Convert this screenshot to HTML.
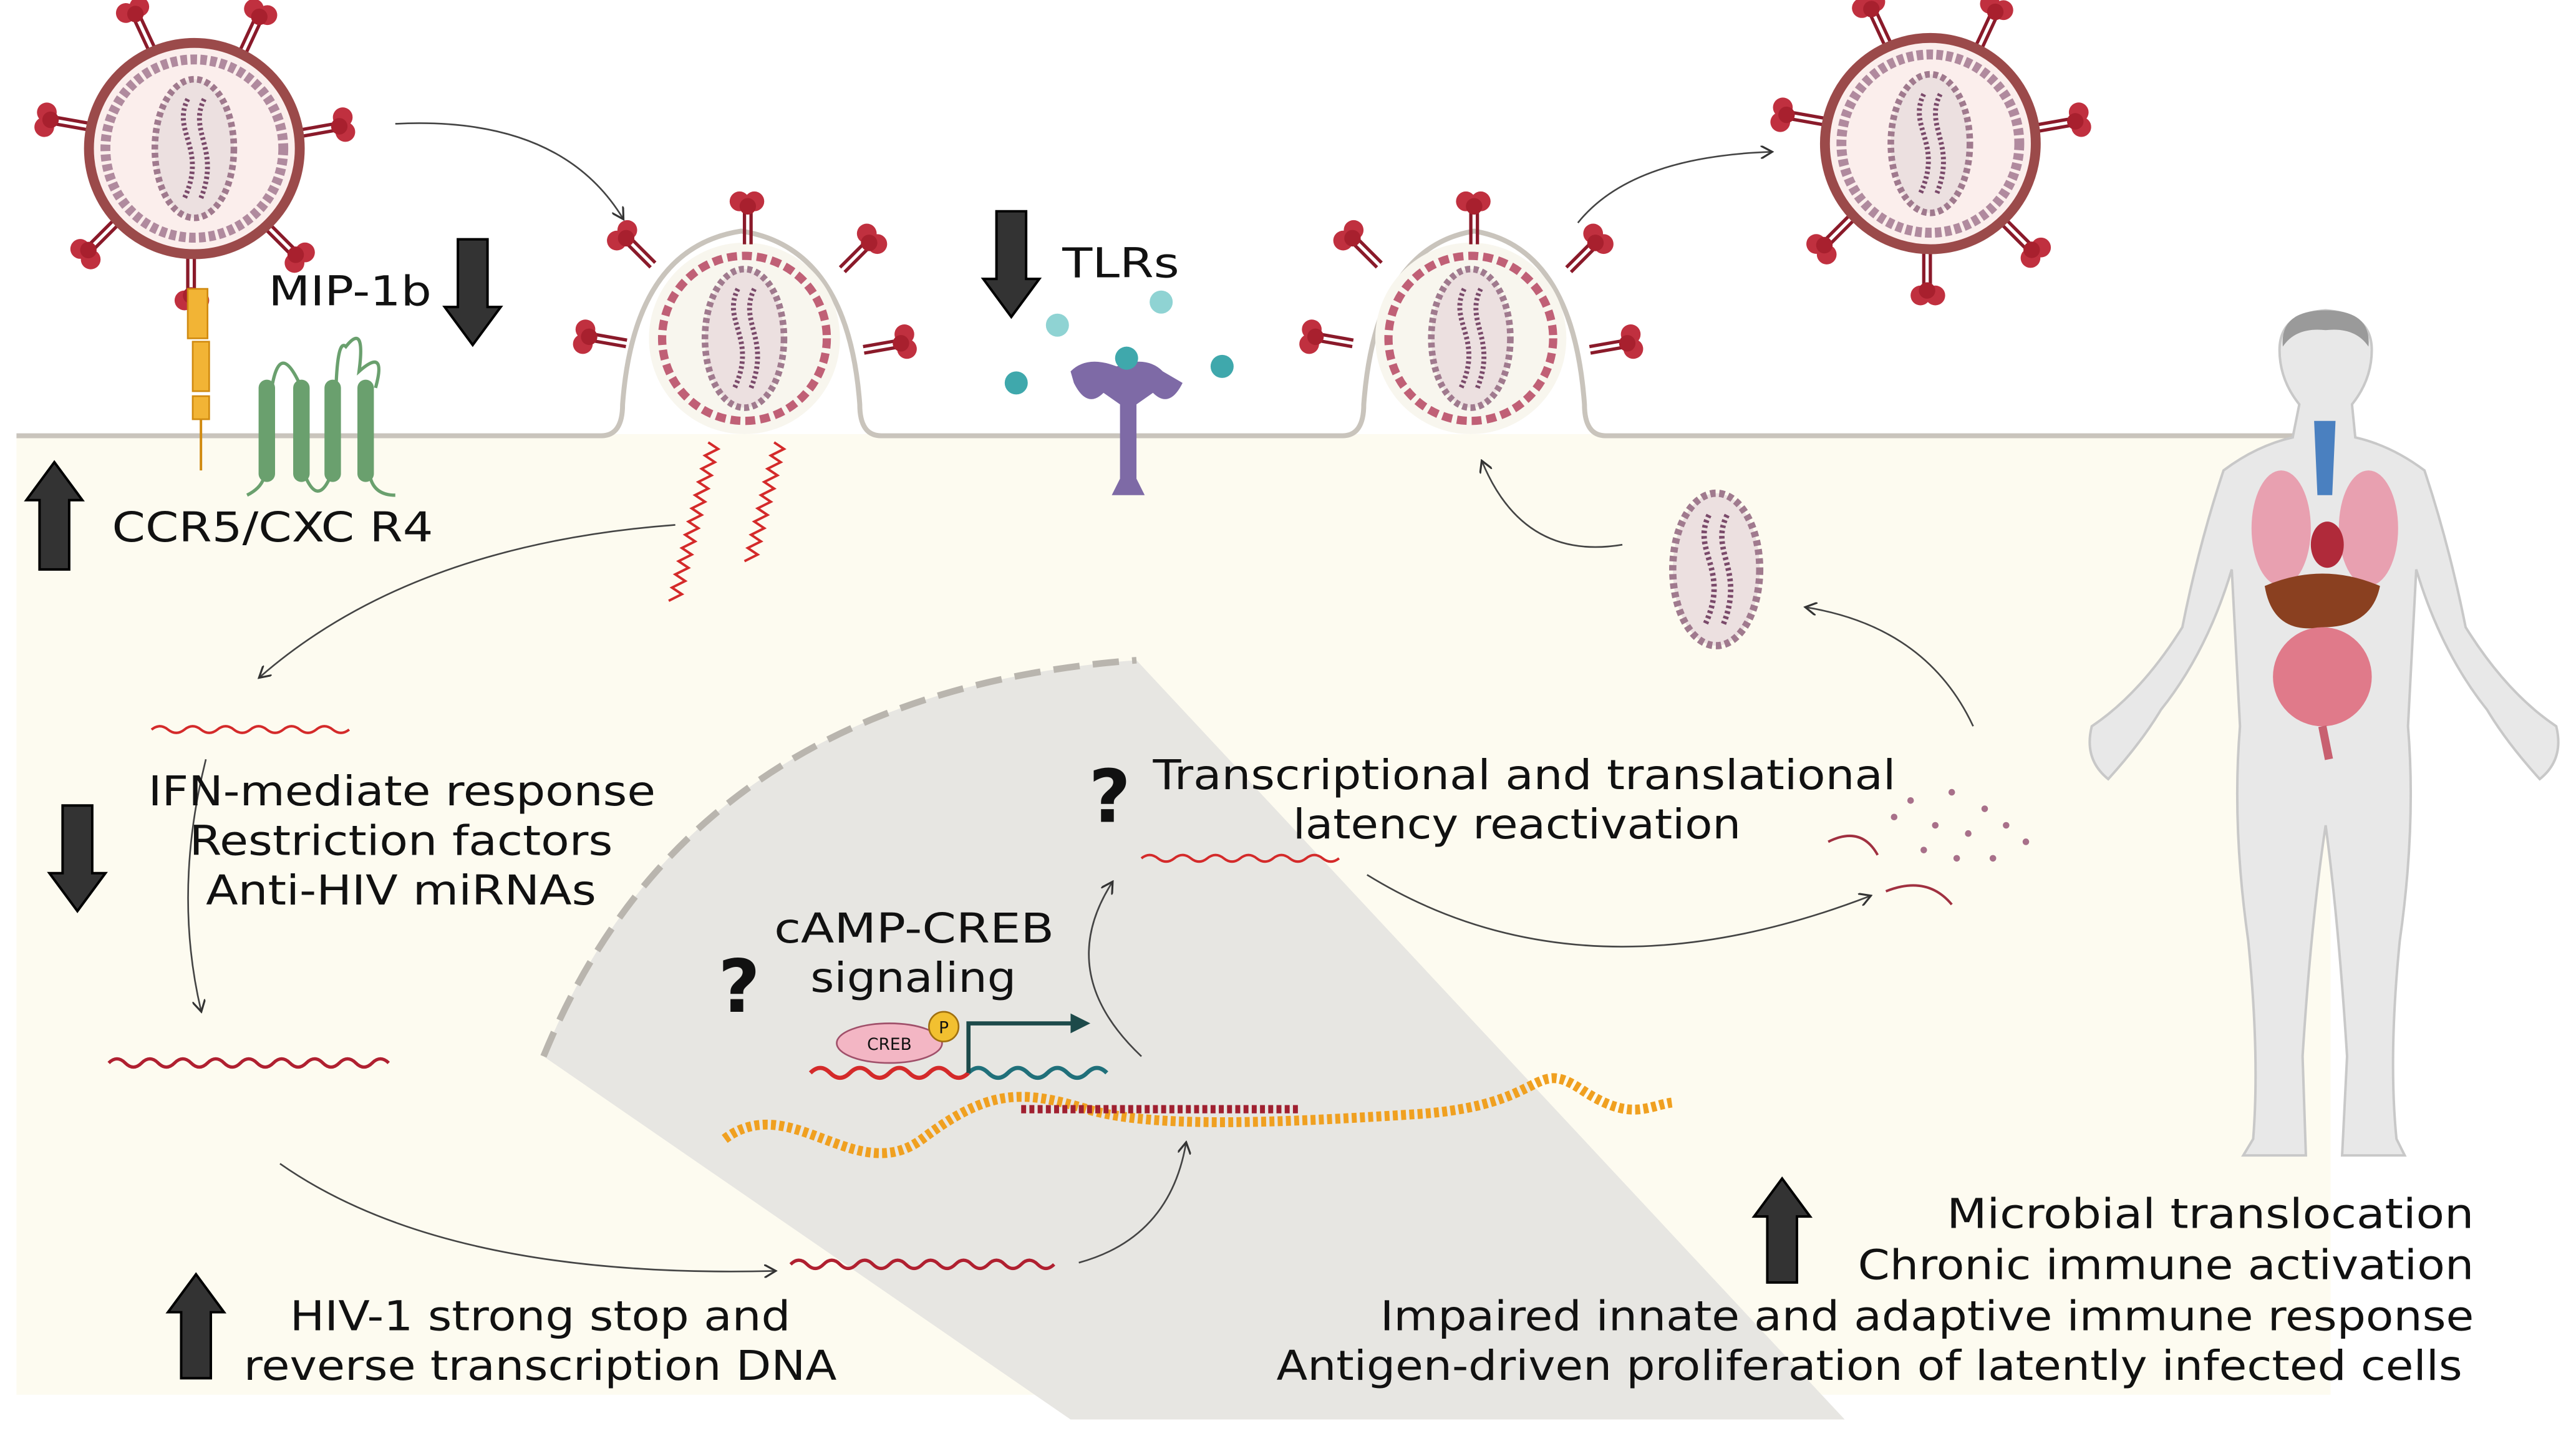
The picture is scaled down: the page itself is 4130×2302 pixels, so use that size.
<!DOCTYPE html>
<html><head><meta charset="utf-8"><style>
html,body{margin:0;padding:0;background:#fff;}
svg{display:block;}
text{font-family:"DejaVu Sans","Liberation Sans",sans-serif;fill:#111;}
</style></head><body>
<svg width="4130" height="2302" viewBox="0 0 1564 870" preserveAspectRatio="none" xmlns="http://www.w3.org/2000/svg">
<defs>
<marker id="ah" markerWidth="8" markerHeight="8" refX="6" refY="4" orient="auto" markerUnits="userSpaceOnUse"><path d="M0,0 L7,4 L0,8" fill="none" stroke="#333" stroke-width="1.2"/></marker>
<g id="spike"><line x1="0" y1="0" x2="0" y2="-22" stroke="#8a1a2a" stroke-width="2"/><line x1="4" y1="0" x2="4" y2="-22" stroke="#8a1a2a" stroke-width="2"/><circle cx="-3" cy="-26" r="6" fill="#c0303f"/><circle cx="6" cy="-26" r="6" fill="#c0303f"/><circle cx="2" cy="-23" r="5" fill="#a8202e"/></g>
<g id="capsid"><ellipse cx="0" cy="0" rx="24" ry="42" fill="#ece0e0" stroke="#a07a8e" stroke-width="4" stroke-dasharray="3 2"/><path d="M-4,-30 C-14,-10 8,0 -6,30 M6,-30 C-4,-10 16,0 4,30" fill="none" stroke="#7a4a6a" stroke-width="3" stroke-dasharray="1.5 1.5"/></g>
<g id="virus">
<use href="#spike" transform="rotate(-25) translate(0,-66)"/><use href="#spike" transform="rotate(25) translate(0,-66)"/>
<use href="#spike" transform="rotate(-80) translate(0,-66)"/><use href="#spike" transform="rotate(80) translate(0,-66)"/>
<use href="#spike" transform="rotate(-135) translate(0,-66)"/><use href="#spike" transform="rotate(135) translate(0,-66)"/>
<use href="#spike" transform="rotate(180) translate(0,-66)"/>
<circle r="64" fill="#fbeeec" stroke="#9b4a4a" stroke-width="6"/>
<circle r="54" fill="none" stroke="#b08a9e" stroke-width="6" stroke-dasharray="4 2"/>
<use href="#capsid"/>
</g>
<g id="bud">
<circle r="58" fill="#f8f6ee"/>
<circle r="50" fill="none" stroke="#c06076" stroke-width="5" stroke-dasharray="6 3"/>
<use href="#capsid"/>
</g>
</defs>
<rect x="10" y="263" width="1405" height="582" fill="#fdfbf0"/>
<path d="M330,640 Q420,420 690,400 L1120,860 L650,860 Z" fill="#e7e6e2"/>
<path d="M330,640 Q420,420 690,400" fill="none" stroke="#b9b5ae" stroke-width="4" stroke-dasharray="16 8"/>
<path d="M10,264 L365,264 Q378,264 378,245 Q385,150 450,140 Q515,150 522,245 Q522,264 535,264 L815,264 Q828,264 828,245 Q835,150 895,140 Q955,150 962,245 Q962,264 975,264 L1400,264" fill="none" stroke="#c9c4bc" stroke-width="3"/>
<use href="#virus" transform="translate(118,90)"/>
<use href="#virus" transform="translate(1172,87)"/>
<use href="#bud" transform="translate(452,205)"/>
<use href="#bud" transform="translate(893,205)"/>
<use href="#spike" transform="translate(452,148)"/><use href="#spike" transform="translate(395,162) rotate(-45)"/><use href="#spike" transform="translate(510,162) rotate(45)"/><use href="#spike" transform="translate(380,210) rotate(-80)"/><use href="#spike" transform="translate(524,210) rotate(80)"/>
<use href="#spike" transform="translate(893,148)"/><use href="#spike" transform="translate(836,162) rotate(-45)"/><use href="#spike" transform="translate(951,162) rotate(45)"/><use href="#spike" transform="translate(821,210) rotate(-80)"/><use href="#spike" transform="translate(965,210) rotate(80)"/>
<use href="#capsid" transform="translate(1042,345) scale(1.1)"/>
<rect x="114" y="175" width="12" height="30" fill="#f2b435" stroke="#d08a10"/><rect x="117" y="207" width="10" height="30" fill="#f2b435" stroke="#d08a10"/><rect x="117" y="240" width="10" height="14" fill="#f2b435" stroke="#d08a10"/>
<line x1="122" y1="254" x2="122" y2="285" stroke="#d08a10" stroke-width="1.5"/>
<g fill="#6aa06e"><rect x="157" y="230" width="10" height="62" rx="5"/><rect x="178" y="230" width="10" height="62" rx="5"/><rect x="197" y="230" width="10" height="62" rx="5"/><rect x="217" y="230" width="10" height="62" rx="5"/></g>
<path d="M150,300 Q158,296 160,290 M165,235 Q170,205 183,235 M186,290 Q193,305 200,290 M204,235 Q205,205 210,210 Q222,195 218,225 Q235,210 228,235 M225,290 Q228,300 240,300" fill="none" stroke="#6aa06e" stroke-width="2"/>
<path d="M650,225 Q660,215 678,222 Q696,215 706,225 L718,232 Q710,248 700,238 L690,245 L690,290 L695,300 L675,300 L680,290 L680,245 L670,238 Q660,248 652,232 Z" fill="#7e6aa6"/>
<g fill="#8fd3d3"><circle cx="642" cy="197" r="7"/><circle cx="705" cy="183" r="7"/></g>
<g fill="#3fa8ac"><circle cx="617" cy="232" r="7"/><circle cx="684" cy="217" r="7"/><circle cx="742" cy="222" r="7"/></g>
<g fill="#333" stroke="#000" stroke-width="1.5">
<path d="M24,345 L42,345 L42,303 L50,303 L33,280 L16,303 L24,303 Z"/>
<path d="M278,145 L296,145 L296,186 L304,186 L287,209 L270,186 L278,186 Z"/>
<path d="M605,128 L623,128 L623,169 L631,169 L614,192 L597,169 L605,169 Z"/>
<path d="M38,488 L56,488 L56,529 L64,529 L47,552 L30,529 L38,529 Z"/>
<path d="M110,835 L128,835 L128,795 L136,795 L119,772 L102,795 L110,795 Z"/>
<path d="M1073,777 L1091,777 L1091,737 L1099,737 L1082,714 L1065,737 L1073,737 Z"/>
</g>
<g fill="none" stroke="#444" stroke-width="1" marker-end="url(#ah)">
<path d="M240,75 Q340,70 378,132"/>
<path d="M958,135 Q990,95 1075,92"/>
<path d="M410,318 Q250,330 158,410"/>
<path d="M125,460 Q105,540 122,612"/>
<path d="M170,705 Q270,775 470,770"/>
<path d="M655,765 Q710,750 720,693"/>
<path d="M693,640 Q640,590 675,535"/>
<path d="M830,530 Q960,610 1135,543"/>
<path d="M1198,440 Q1170,380 1097,368"/>
<path d="M985,330 Q925,340 900,280"/>
</g>
<g fill="none" stroke="#d42a2a" stroke-width="1.5">
<path d="M430,268 l6,4 l-8,4 l6,4 l-8,4 l6,4 l-8,4 l6,4 l-8,4 l6,4 l-8,4 l6,4 l-8,4 l6,4 l-8,4 l6,4 l-8,4 l6,4 l-8,4 l6,4 l-8,4 l6,4 l-8,4 l6,4 l-8,4" />
<path d="M470,268 l6,4 l-8,4 l6,4 l-8,4 l6,4 l-8,4 l6,4 l-8,4 l6,4 l-8,4 l6,4 l-8,4 l6,4 l-8,4 l6,4 l-8,4 l6,4 l-8,4"/>
<path d="M92,442 q5,-4 10,0 q5,4 10,0 q5,-4 10,0 q5,4 10,0 q5,-4 10,0 q5,4 10,0 q5,-4 10,0 q5,4 10,0 q5,-4 10,0 q5,4 10,0 q5,-4 10,0 q5,4 10,0"/>
<path d="M693,520 q5,-4 10,0 q5,4 10,0 q5,-4 10,0 q5,4 10,0 q5,-4 10,0 q5,4 10,0 q5,-4 10,0 q5,4 10,0 q5,-4 10,0 q5,4 10,0 q5,-4 10,0 q5,4 10,0"/>
<path d="M1110,510 q20,-10 30,8 M1145,540 q25,-10 40,8" stroke="#a03040"/>
</g>
<g fill="none" stroke="#b02030" stroke-width="2">
<path d="M66,644 q5,-5 10,0 q5,5 10,0 q5,-5 10,0 q5,5 10,0 q5,-5 10,0 q5,5 10,0 q5,-5 10,0 q5,5 10,0 q5,-5 10,0 q5,5 10,0 q5,-5 10,0 q5,5 10,0 q5,-5 10,0 q5,5 10,0 q5,-5 10,0 q5,5 10,0 q5,-5 10,0"/>
<path d="M480,766 q5,-5 10,0 q5,5 10,0 q5,-5 10,0 q5,5 10,0 q5,-5 10,0 q5,5 10,0 q5,-5 10,0 q5,5 10,0 q5,-5 10,0 q5,5 10,0 q5,-5 10,0 q5,5 10,0 q5,-5 10,0 q5,5 10,0 q5,-5 10,0 q5,5 10,0"/>
</g>
<g fill="#a8708a"><circle cx="1160" cy="485" r="2"/><circle cx="1185" cy="480" r="2"/><circle cx="1205" cy="490" r="2"/><circle cx="1175" cy="500" r="2"/><circle cx="1195" cy="505" r="2"/><circle cx="1218" cy="500" r="2"/><circle cx="1150" cy="495" r="2"/><circle cx="1230" cy="510" r="2"/><circle cx="1210" cy="520" r="2"/><circle cx="1188" cy="520" r="2"/><circle cx="1168" cy="515" r="2"/></g>
<path d="M440,690 C480,660 520,720 560,690 S620,660 660,672 S780,680 860,675 S930,640 960,660 S1000,670 1015,668" fill="none" stroke="#f0a020" stroke-width="6" stroke-dasharray="3 2"/>
<path d="M620,672 L790,672" stroke="#a02030" stroke-width="5" stroke-dasharray="3 2"/>
<path d="M492,650 q6,-6 12,0 q6,6 12,0 q6,-6 12,0 q6,6 12,0 q6,-6 12,0 q6,6 12,0 q6,-6 12,0 q6,6 12,0" fill="none" stroke="#d42a2a" stroke-width="2.5"/>
<path d="M588,650 q6,-6 12,0 q6,6 12,0 q6,-6 12,0 q6,6 12,0 q6,-6 12,0 q6,6 12,0 q6,-6 12,0" fill="none" stroke="#20707a" stroke-width="2.5"/>
<ellipse cx="540" cy="632" rx="32" ry="12" fill="#f3b6c4" stroke="#a0506a"/>
<text x="540" y="636" font-size="10" text-anchor="middle">CREB</text>
<circle cx="573" cy="622" r="9" fill="#f2c030" stroke="#a07010"/>
<text x="573" y="626" font-size="10" text-anchor="middle">P</text>
<path d="M588,650 L588,620 L652,620" fill="none" stroke="#1d4a4a" stroke-width="2.5"/><path d="M650,614 L662,620 L650,626 Z" fill="#1d4a4a"/>
<g fill="#e8e8e8" stroke="#c8c8c8" stroke-width="1.5">
<path d="M1392,265 Q1370,270 1350,285 Q1335,330 1325,380 Q1300,420 1270,440 Q1265,460 1280,472 Q1300,450 1312,430 Q1340,395 1355,345 L1360,440 Q1355,500 1365,570 Q1372,640 1368,690 L1362,700 L1400,700 L1398,640 Q1403,560 1412,500 Q1420,560 1425,640 L1422,700 L1460,700 L1455,690 Q1450,640 1457,570 Q1467,500 1462,440 L1467,345 Q1482,395 1510,430 Q1522,450 1542,472 Q1557,460 1552,440 Q1522,420 1497,380 Q1487,330 1472,285 Q1452,270 1430,265 L1428,245 Q1440,230 1440,212 Q1440,190 1412,188 Q1384,190 1384,212 Q1384,230 1396,245 Z"/>
</g>
<path d="M1386,210 Q1384,188 1412,188 Q1440,188 1438,210 Q1430,198 1412,200 Q1394,198 1386,210Z" fill="#9a9a9a"/>
<path d="M1405,255 L1418,255 L1416,300 L1407,300 Z" fill="#4a80c0"/>
<ellipse cx="1385" cy="320" rx="18" ry="35" fill="#e8a0b0"/><ellipse cx="1438" cy="320" rx="18" ry="35" fill="#e8a0b0"/>
<ellipse cx="1413" cy="330" rx="10" ry="14" fill="#b02a3a"/>
<path d="M1375,355 Q1410,340 1445,355 Q1440,380 1410,380 Q1380,385 1375,355Z" fill="#8a4020"/>
<ellipse cx="1410" cy="410" rx="30" ry="30" fill="#e07a8a"/>
<path d="M1410,440 L1414,460" stroke="#c86070" stroke-width="5"/>
<g font-size="25" lengthAdjust="spacingAndGlyphs">
<text x="163" y="185" textLength="99" lengthAdjust="spacingAndGlyphs">MIP-1b</text>
<text x="68" y="328" textLength="195" lengthAdjust="spacingAndGlyphs">CCR5/CXC R4</text>
<text x="645" y="168" textLength="71" lengthAdjust="spacingAndGlyphs">TLRs</text>
<text x="90" y="488" textLength="308" lengthAdjust="spacingAndGlyphs">IFN-mediate response</text>
<text x="115" y="518" textLength="257" lengthAdjust="spacingAndGlyphs">Restriction factors</text>
<text x="125" y="548" textLength="237" lengthAdjust="spacingAndGlyphs">Anti-HIV miRNAs</text>
<text x="470" y="571" textLength="170" lengthAdjust="spacingAndGlyphs">cAMP-CREB</text>
<text x="492" y="601" textLength="125" lengthAdjust="spacingAndGlyphs">signaling</text>
<text x="700" y="478" textLength="451" lengthAdjust="spacingAndGlyphs">Transcriptional and translational</text>
<text x="785" y="508" textLength="272" lengthAdjust="spacingAndGlyphs">latency reactivation</text>
<text x="176" y="806" textLength="304" lengthAdjust="spacingAndGlyphs">HIV-1 strong stop and</text>
<text x="148" y="836" textLength="360" lengthAdjust="spacingAndGlyphs">reverse transcription DNA</text>
<text x="1182" y="744" textLength="320" lengthAdjust="spacingAndGlyphs">Microbial translocation</text>
<text x="1128" y="775" textLength="374" lengthAdjust="spacingAndGlyphs">Chronic immune activation</text>
<text x="838" y="806" textLength="664" lengthAdjust="spacingAndGlyphs">Impaired innate and adaptive immune response</text>
<text x="775" y="836" textLength="720" lengthAdjust="spacingAndGlyphs">Antigen-driven proliferation of latently infected cells</text>
</g>
<text x="661" y="498" font-size="44" font-weight="bold">?</text>
<text x="436" y="613" font-size="44" font-weight="bold">?</text>
</svg>
</body></html>
